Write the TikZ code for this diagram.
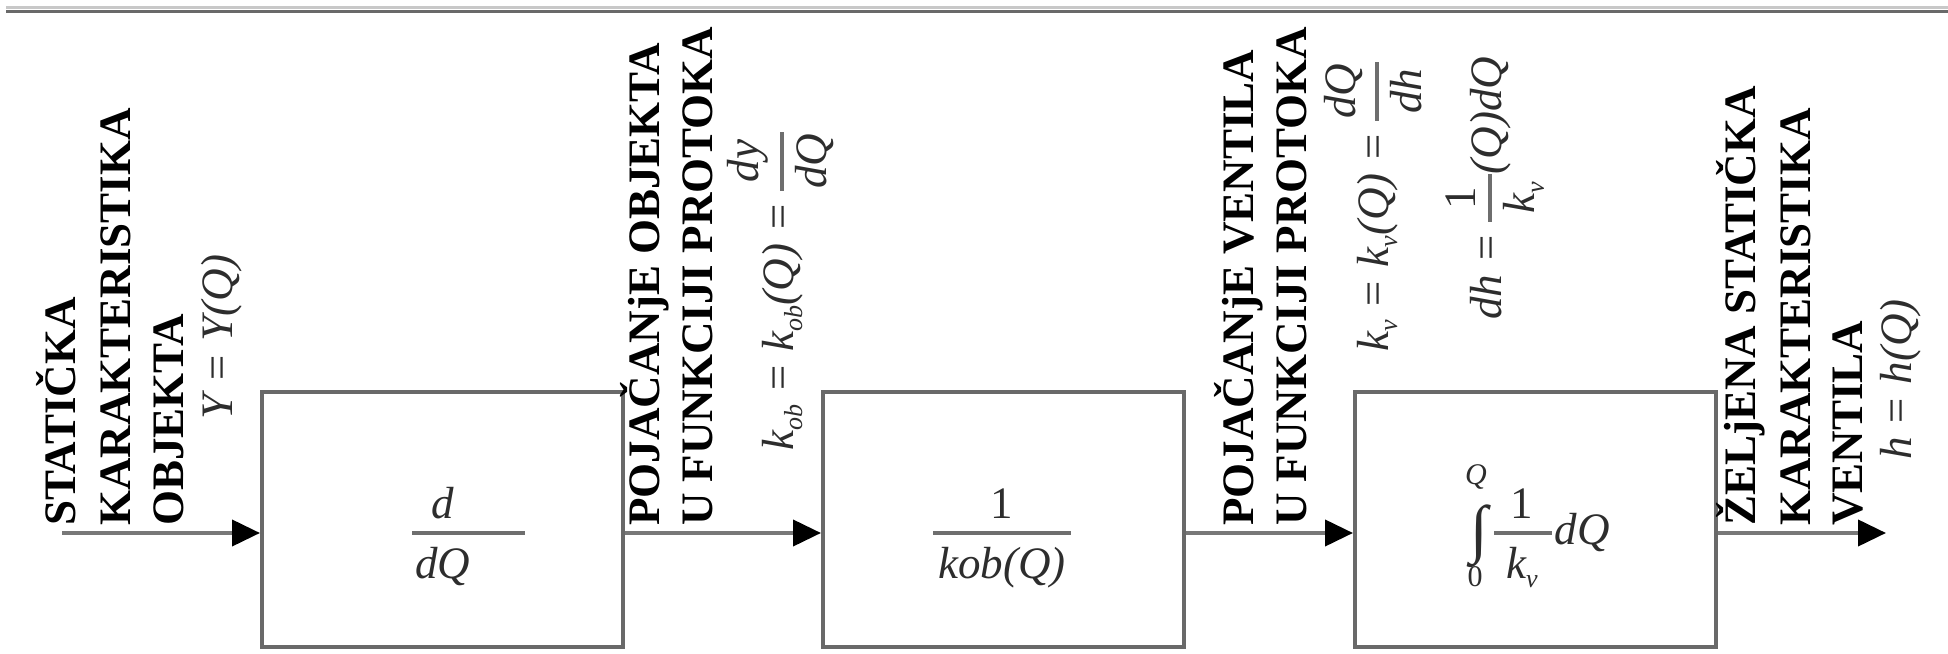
\documentclass[tikz,border=0pt]{standalone}
\usepackage{fontspec}
\setmainfont{Liberation Serif}
\usetikzlibrary{arrows.meta}

\definecolor{linegray}{RGB}{105,105,105}
\definecolor{wiregray}{RGB}{120,120,120}
\definecolor{rulelight}{RGB}{200,200,200}
\definecolor{inkgray}{RGB}{45,45,45}
\definecolor{bargray}{RGB}{110,110,110}

% text-mode fraction: \vfr{left pad}{right pad}{numerator}{denominator}
\newsavebox\fnumbox
\newsavebox\fdenbox
\newlength\fwd
\newlength\faxis \setlength\faxis{11.25pt}
\newlength\fgap  \setlength\fgap{14pt}
\newlength\fbar  \setlength\fbar{3.5pt}
\newcommand\vfr[4]{%
  \sbox\fnumbox{#3}\sbox\fdenbox{#4}%
  \setlength\fwd{\wd\fnumbox}%
  \ifdim\wd\fdenbox>\fwd\relax\setlength\fwd{\wd\fdenbox}\fi
  \rlap{\kern#1\raisebox{\dimexpr\faxis+\fgap+\dp\fnumbox\relax}{\makebox[\fwd]{\usebox\fnumbox}}}%
  \rlap{\kern#1\raisebox{\dimexpr\faxis-\fgap-\ht\fdenbox\relax}{\makebox[\fwd]{\usebox\fdenbox}}}%
  \raisebox{\dimexpr\faxis-\fbar/2\relax}{\textcolor{bargray}{\rule{\dimexpr\fwd+#1+#2\relax}{\fbar}}}%
}
\newcommand\lowsub[1]{\raisebox{-0.2em}{\fontsize{26}{26}\selectfont #1}}

\begin{document}
\begin{tikzpicture}[x=1pt,y=1pt,
  blk/.style={draw=linegray, line width=4pt, minimum width=361pt, minimum height=255pt, inner sep=0pt},
  wire/.style={draw=wiregray, line width=4pt, -{Triangle[length=28pt,width=26pt,color=black]}},
  lbl/.style={rotate=90, anchor=base west, inner sep=0pt, font=\fontsize{45}{54}\selectfont\bfseries},
  fml/.style={rotate=90, anchor=base west, inner sep=0pt, text=inkgray, font=\fontsize{45}{54}\selectfont\itshape},
  blkfml/.style={anchor=base west, inner sep=0pt, text=inkgray, font=\fontsize{45}{54}\selectfont\itshape},
  lim/.style={inner sep=0pt, text=inkgray, font=\fontsize{30}{30}\selectfont\itshape}]

\useasboundingbox (0,0) rectangle (1948,653);
\fill[white] (0,0) rectangle (1948,653);

% rule along the top edge
\draw[rulelight, line width=3pt] (6,645) -- (1948,645);
\draw[linegray, line width=3.5pt] (6,641.5) -- (1948,641.5);

% blocks
\node[blk] (b1) at (442.5,133.5) {};
\node[blk] (b2) at (1003.5,133.5) {};
\node[blk] (b3) at (1535.5,133.5) {};

% signal path
\coordinate (lvl) at (0,120);
\coordinate (inp) at (62,120);
\coordinate (outp) at (1886,120);
\draw[wire] (inp) -- (inp -| b1.west);
\draw[wire] (b1.east |- lvl) -- (b2.west |- lvl);
\draw[wire] (b2.east |- lvl) -- (b3.west |- lvl);
\draw[wire] (b3.east |- lvl) -- (outp);

% block contents
\node[blkfml] (c1) at (412,108.75) {\vfr{3pt}{55pt}{d}{dQ}};
\node[blkfml] (c2) at (933,108.75) {\vfr{5pt}{5pt}{\upshape 1}{kob(Q)}};
\node[blkfml] (c3) at (1494,108.75) {\vfr{12pt}{14pt}{\upshape 1}{k\lowsub{v}}\kern3pt dQ};
\node[inner sep=0pt, text=inkgray, font=\fontsize{64}{64}\selectfont] (c3int) at (1479,116.5) {∫};
\node[lim] (c3top) at (1476,176) {Q};
\node[lim, font=\fontsize{30}{30}\selectfont\upshape] (c3bot) at (1475,76) {0};

% input label
\node[lbl] (l1a) at (75,127) {STATIČKA};
\node[lbl] (l1b) at (130,127) {KARAKTERISTIKA};
\node[lbl] (l1c) at (183,127) {OBJEKTA};
\node[fml] (f1) at (232,233) {Y = Y(Q)};

% label between blocks 1 and 2
\node[lbl] (l2a) at (659,127) {POJAČANjE OBJEKTA};
\node[lbl] (l2b) at (712,127) {U FUNKCIJI PROTOKA};
\node[fml] (f2) at (793,202) {k\lowsub{ob} = k\lowsub{ob}(Q) = \vfr{2pt}{2pt}{dy}{dQ}};

% label between blocks 2 and 3
\node[lbl] (l3a) at (1253,127) {POJAČANjE VENTILA};
\node[lbl] (l3b) at (1306,127) {U FUNKCIJI PROTOKA};
\node[fml] (f3) at (1388,301) {k\lowsub{v} = k\lowsub{v}(Q) = \vfr{2pt}{2pt}{dQ}{dh}};
\node[fml] (f4) at (1501,333) {dh = \vfr{8pt}{8pt}{\upshape 1}{k\lowsub{v}}(Q)dQ};

% output label
\node[lbl] (l4a) at (1755,127) {ŽELjENA STATIČKA};
\node[lbl] (l4b) at (1810,127) {KARAKTERISTIKA};
\node[lbl] (l4c) at (1862,127) {VENTILA};
\node[fml] (f5) at (1911,193) {h = h(Q)};
\end{tikzpicture}
\end{document}
